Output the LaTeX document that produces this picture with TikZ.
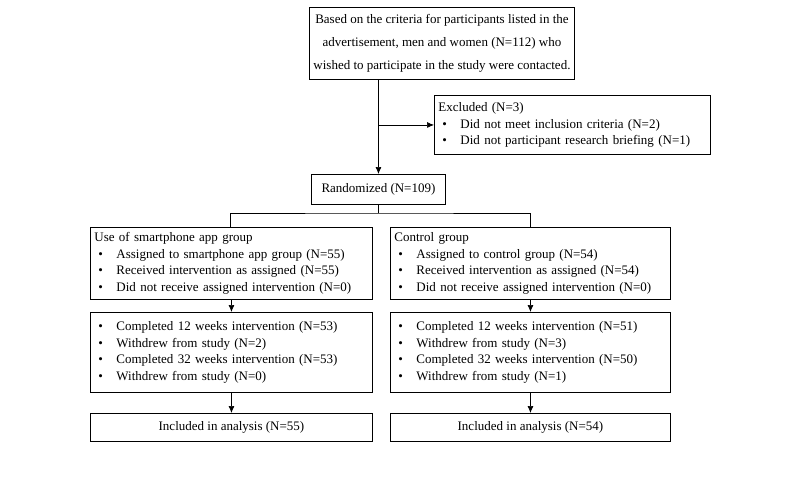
\documentclass[tikz,border=0pt]{standalone}
\usepackage{fontspec}
\setmainfont{Liberation Serif}
\usetikzlibrary{positioning,arrows.meta}
\newcommand{\bul}{\makebox[22pt][l]{\hspace{4pt}\textbullet}}
\begin{document}
\begin{tikzpicture}[x=1pt,y=-1pt,
  box/.style={draw,line width=0.9pt,inner sep=4pt,align=left,anchor=north west,
    font=\fontsize{13}{16.5}\selectfont},
  line/.style={line width=0.7pt},
  arr/.style={line width=0.7pt,-{Latex[length=7pt,width=6pt]}}]
  \useasboundingbox (0,0) rectangle (800,480);

  % top part
  \node[box,minimum width=217pt,minimum height=72pt,align=center,
    font=\fontsize{13}{23}\selectfont] (contact) at (309,7)
    {Based on the criteria for participants listed in the\\ advertisement, men and women (N=112) who\\ wished to participate in the study were contacted.};
  \node[box,text width=268pt,minimum height=59pt] (excl) at (434,95)
    {Excluded (N=3)\\ \bul Did not meet inclusion criteria (N=2)\\ \bul Did not participant research briefing (N=1)};
  \node[box,minimum width=134pt,minimum height=30pt,align=center] (rand) at (311,174) {Randomized (N=109)};
  \coordinate (top) at (rand.north |- contact.south);
  \coordinate (exclin) at (rand.north |- excl.west);
  \draw[arr] (top) -- (rand.north);
  \draw[arr] (exclin) -- (excl.west);

  % groups
  \node[box,text width=274pt,minimum height=72pt] (app) at (90,227)
    {Use of smartphone app group\\ \bul Assigned to smartphone app group (N=55)\\ \bul Received intervention as assigned (N=55)\\ \bul Did not receive assigned intervention (N=0)};
  \node[box,text width=272pt,minimum height=72pt] (ctrl) at (390,227)
    {Control group\\ \bul Assigned to control group (N=54)\\ \bul Received intervention as assigned (N=54)\\ \bul Did not receive assigned intervention (N=0)};
  \coordinate (split) at (0,213);
  \draw[line] (rand.south) -- (rand.south |- split);
  \draw[line] (app.north -| 230,0) |- (rand.south |- split) -| (ctrl.north -| 530,0);

  % follow-up
  \node[box,text width=274pt,minimum height=80pt] (appfu) at (90,312)
    {\bul Completed 12 weeks intervention (N=53)\\ \bul Withdrew from study (N=2)\\ \bul Completed 32 weeks intervention (N=53)\\ \bul Withdrew from study (N=0)};
  \node[box,text width=272pt,minimum height=80pt] (ctrlfu) at (390,312)
    {\bul Completed 12 weeks intervention (N=51)\\ \bul Withdrew from study (N=3)\\ \bul Completed 32 weeks intervention (N=50)\\ \bul Withdrew from study (N=1)};
  \draw[arr] (app.south) -- (appfu.north);
  \draw[arr] (ctrl.south) -- (ctrlfu.north);

  % analysis
  \node[box,minimum width=282pt,minimum height=28pt,align=center] (appan) at (90,413) {Included in analysis (N=55)};
  \node[box,minimum width=280pt,minimum height=28pt,align=center] (ctrlan) at (390,413) {Included in analysis (N=54)};
  \draw[arr] (appfu.south) -- (appan.north);
  \draw[arr] (ctrlfu.south) -- (ctrlan.north);
\end{tikzpicture}
\end{document}
